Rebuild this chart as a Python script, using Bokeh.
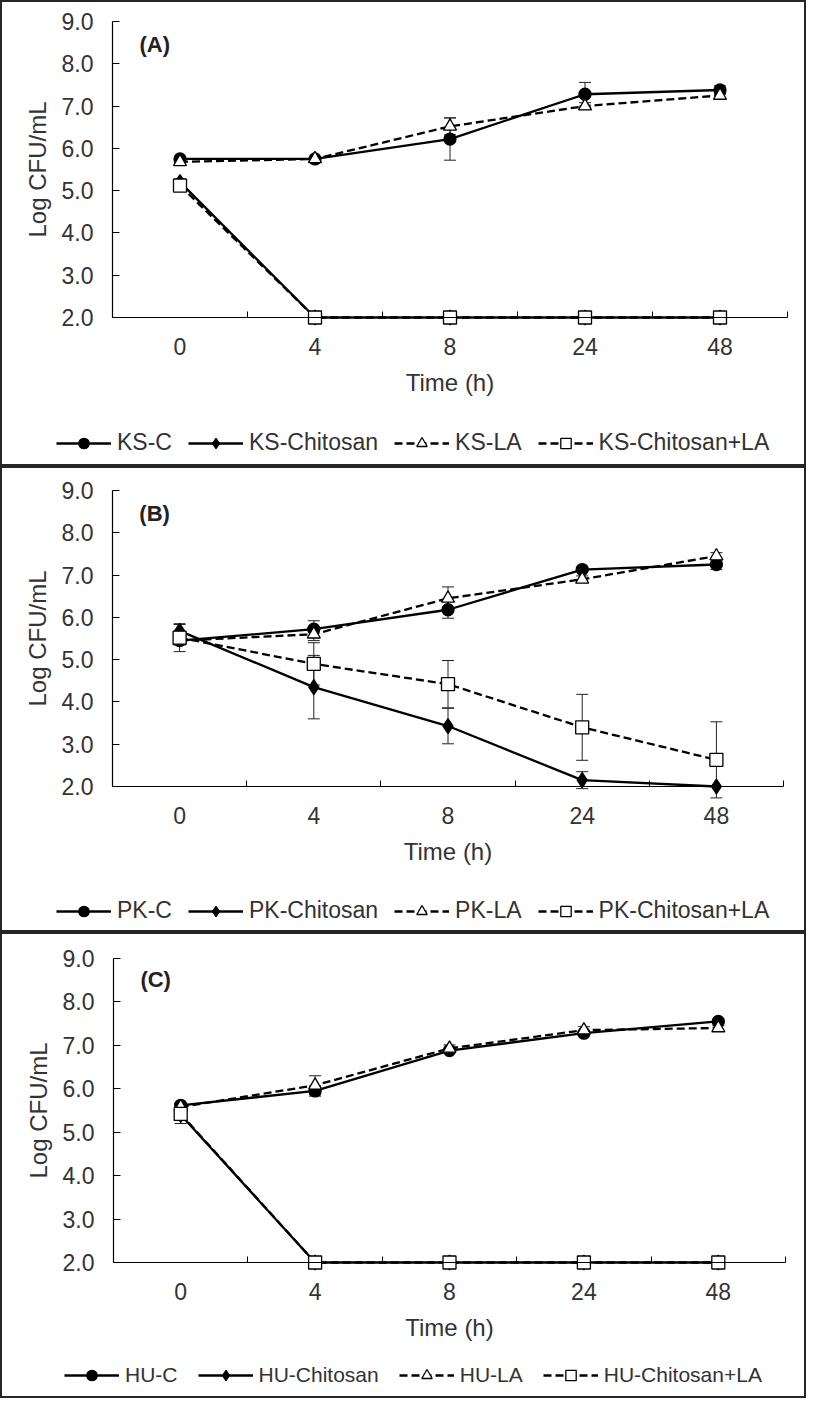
from bokeh.plotting import figure
from bokeh.models import (Range1d, FixedTicker, Legend, LegendItem, Whisker, TeeHead,
                          ColumnDataSource, Label, NumeralTickFormatter)
from bokeh.layouts import column
from bokeh.embed import file_html
from bokeh.resources import INLINE

# ---------------- data ----------------
times = ["0", "4", "8", "24", "48"]
y_ticks = [2.0, 3.0, 4.0, 5.0, 6.0, 7.0, 8.0, 9.0]

# Panel A (KS)
ks_names = ["KS-C", "KS-Chitosan", "KS-LA", "KS-Chitosan+LA"]
ks_c = [5.75, 5.75, 6.22, 7.28, 7.38]
ks_c_err = [0.05, 0.05, 0.50, 0.28, 0.10]
ks_chitosan = [5.20, 2.00, 2.00, 2.00, 2.00]
ks_chitosan_err = [0.08, 0.0, 0.0, 0.0, 0.0]
ks_la = [5.68, 5.75, 6.52, 7.00, 7.25]
ks_la_err = [0.05, 0.05, 0.20, 0.08, 0.05]
ks_chla = [5.12, 2.00, 2.00, 2.00, 2.00]
ks_chla_err = [0.08, 0.0, 0.0, 0.0, 0.0]

# Panel B (PK)
pk_names = ["PK-C", "PK-Chitosan", "PK-LA", "PK-Chitosan+LA"]
pk_c = [5.45, 5.72, 6.18, 7.13, 7.25]
pk_c_err = [0.10, 0.20, 0.20, 0.05, 0.12]
pk_chitosan = [5.68, 4.35, 3.43, 2.15, 2.00]
pk_chitosan_err = [0.15, 0.75, 0.42, 0.20, 0.0]
pk_la = [5.45, 5.60, 6.45, 6.90, 7.45]
pk_la_err = [0.10, 0.15, 0.27, 0.08, 0.08]
pk_chla = [5.52, 4.90, 4.42, 3.40, 2.63]
pk_chla_err = [0.33, 0.50, 0.56, 0.78, 0.90]

# Panel C (HU)
hu_names = ["HU-C", "HU-Chitosan", "HU-LA", "HU-Chitosan+LA"]
hu_c = [5.62, 5.95, 6.88, 7.28, 7.55]
hu_c_err = [0.05, 0.12, 0.05, 0.05, 0.05]
hu_chitosan = [5.40, 2.00, 2.00, 2.00, 2.00]
hu_chitosan_err = [0.05, 0.0, 0.0, 0.0, 0.0]
hu_la = [5.58, 6.08, 6.93, 7.35, 7.40]
hu_la_err = [0.05, 0.22, 0.08, 0.08, 0.05]
hu_chla = [5.42, 2.00, 2.00, 2.00, 2.00]
hu_chla_err = [0.22, 0.0, 0.0, 0.0, 0.0]

panel_tags = ["(A)", "(B)", "(C)"]
x_title = "Time (h)"
y_title = "Log CFU/mL"

# ---------------- style ----------------
FONT = "Liberation Sans"
TXT = "#333333"
FS_TICK = "23px"
FS_TITLE = "24px"
DASH = "8 4"
W, H = 806, 466
STYLES = [
    dict(marker="circle", dash="solid", fill="black", size=12),
    dict(marker="diamond", dash="solid", fill="black", size=15),
    dict(marker="triangle", dash=DASH, fill="white", size=13),
    dict(marker="square", dash=DASH, fill="white", size=13),
]


def make_panel(tag, names, series, errs, frame, tag_y, legend_loc, leg_spacing, leg_fs):
    # frame = pixel box of the axes area inside the panel: left, right, top, bottom
    left, right, top, bottom = frame
    n = len(times)
    y0, y1 = y_ticks[0], y_ticks[-1]
    kx = (right - left) / n
    ky = (bottom - top) / (y1 - y0)
    xr = Range1d(-left / kx, n + (W - right) / kx)
    yr = Range1d(y0 - (H - bottom) / ky, y1 + top / ky)
    xs = [i + 0.5 for i in range(n)]

    p = figure(width=W, height=H, output_backend="svg", toolbar_location=None,
               x_range=xr, y_range=yr, min_border=0)
    p.outline_line_color = None
    p.grid.visible = False
    p.background_fill_color = "white"
    p.border_fill_color = "white"
    p.styles = {"border": "2px solid #262626"}

    # x axis
    xa = p.xaxis[0]
    xa.fixed_location = y0
    xa.bounds = (0, n)
    xa.ticker = FixedTicker(ticks=xs, minor_ticks=list(range(n + 1)))
    xa.major_label_overrides = {x: t for x, t in zip(xs, times)}
    xa.major_tick_line_color = None
    xa.minor_tick_in = 6
    xa.minor_tick_out = 0
    xa.minor_tick_line_color = "black"
    xa.axis_label = x_title
    xa.major_label_standoff = 14
    xa.axis_label_standoff = 11

    # y axis
    ya = p.yaxis[0]
    ya.fixed_location = 0
    ya.bounds = (y0, y1)
    ya.ticker = FixedTicker(ticks=y_ticks, minor_ticks=[])
    ya.formatter = NumeralTickFormatter(format="0.0")
    ya.major_tick_in = 7
    ya.major_tick_out = 0
    ya.major_tick_line_color = "black"
    ya.axis_label = y_title
    ya.major_label_standoff = 19
    ya.axis_label_standoff = 8

    for ax in (xa, ya):
        ax.axis_line_color = "black"
        ax.axis_line_width = 1.2
        ax.major_label_text_font = FONT
        ax.major_label_text_font_size = FS_TICK
        ax.major_label_text_color = TXT
        ax.axis_label_text_font = FONT
        ax.axis_label_text_font_size = FS_TITLE
        ax.axis_label_text_font_style = "normal"
        ax.axis_label_text_color = TXT

    items = []
    for name, ys, es, st in zip(names, series, errs, STYLES):
        src = ColumnDataSource(dict(x=xs, y=ys))
        wx = [x for x, e in zip(xs, es) if e > 0]
        wu = [y + e for y, e in zip(ys, es) if e > 0]
        wl = [y - e for y, e in zip(ys, es) if e > 0]
        wsrc = ColumnDataSource(dict(x=wx, upper=wu, lower=wl))
        w = Whisker(source=wsrc, base="x", upper="upper", lower="lower",
                    line_color="#222222", line_width=1, level="underlay",
                    upper_head=TeeHead(size=12, line_color="#222222", line_width=1),
                    lower_head=TeeHead(size=12, line_color="#222222", line_width=1))
        p.add_layout(w)
        lr = p.line("x", "y", source=src, line_color="black", line_width=2.3,
                    line_dash=st["dash"])
        sr = p.scatter("x", "y", source=src, marker=st["marker"], size=st["size"],
                       fill_color=st["fill"], line_color="black", line_width=1.3)
        items.append(LegendItem(label=name, renderers=[lr, sr]))

    leg = Legend(items=items, orientation="horizontal", location=legend_loc,
                 glyph_width=55, glyph_height=26, label_standoff=6, spacing=leg_spacing,
                 padding=0, margin=0, border_line_color=None,
                 background_fill_alpha=0,
                 label_text_font=FONT, label_text_font_size=leg_fs, label_text_color=TXT)
    p.add_layout(leg, "center")

    p.add_layout(Label(x=0.2, y=tag_y, text=tag, text_font=FONT, text_font_size="22px",
                       text_font_style="bold", text_color="#222222",
                       text_baseline="middle", text_align="left"))
    return p


pa = make_panel(panel_tags[0], ks_names, [ks_c, ks_chitosan, ks_la, ks_chla],
                [ks_c_err, ks_chitosan_err, ks_la_err, ks_chla_err],
                (110, 785, 19, 315), 8.46, (54, 12), 16, "23px")
pb = make_panel(panel_tags[1], pk_names, [pk_c, pk_chitosan, pk_la, pk_chla],
                [pk_c_err, pk_chitosan_err, pk_la_err, pk_chla_err],
                (110, 781, 22, 318), 8.46, (54, 10), 16, "23px")
pc = make_panel(panel_tags[2], hu_names, [hu_c, hu_chitosan, hu_la, hu_chla],
                [hu_c_err, hu_chitosan_err, hu_la_err, hu_chla_err],
                (111, 783, 24, 328), 8.52, (62, 12), 20, "21px")

layout = column(pa, pb, pc, spacing=0)
open("out.html", "w").write(file_html(layout, INLINE))
